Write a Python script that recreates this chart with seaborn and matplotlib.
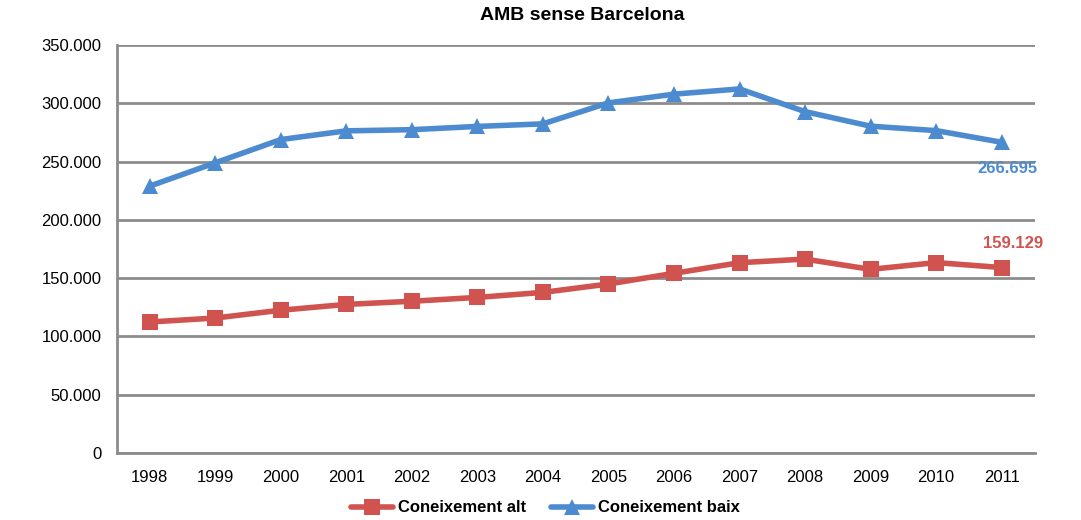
import pandas as pd
import numpy as np
import matplotlib
matplotlib.use("Agg")
import matplotlib.pyplot as plt
import seaborn as sns
from matplotlib.ticker import FuncFormatter, MultipleLocator

years = [1998, 1999, 2000, 2001, 2002, 2003, 2004, 2005, 2006, 2007, 2008, 2009, 2010, 2011]
alt = [112400, 115800, 122500, 127500, 130200, 133500, 137800, 145000, 154200, 163300, 166400, 157600, 163400, 159129]
baix = [229000, 249000, 269000, 276500, 277500, 280300, 282500, 300500, 308000, 312500, 293000, 280500, 276700, 266695]
series_names = ["Coneixement alt", "Coneixement baix"]
title = "AMB sense Barcelona"

red = "#D0534F"
blue = "#4D8BD0"

df = pd.concat([
    pd.DataFrame({"year": years, "value": alt, "serie": series_names[0]}),
    pd.DataFrame({"year": years, "value": baix, "serie": series_names[1]}),
])

sns.set_style("white")
plt.rcParams["font.family"] = ["Liberation Sans", "DejaVu Sans"]
plt.rcParams["text.color"] = "black"

fig = plt.figure(figsize=(10.81, 5.2), dpi=100)
ax = fig.add_axes([0.108, 0.129, 0.849, 0.784])

sns.lineplot(data=df, x="year", y="value", hue="serie", style="serie",
             palette=[red, blue], markers=["s", "^"], dashes=False,
             linewidth=4, markersize=11, markeredgewidth=0, ax=ax)

ax.set_xlim(years[0] - 0.5, years[-1] + 0.5)
ax.set_ylim(0, 350000)
ax.yaxis.set_major_locator(MultipleLocator(50000))
ax.yaxis.set_major_formatter(FuncFormatter(lambda v, p: "0" if v == 0 else f"{int(v):,}".replace(",", ".")))
ax.set_xticks(years)
ax.set_xticks(np.arange(years[0] - 0.5, years[-1] + 1, 1), minor=True)
ax.tick_params(axis="x", which="major", length=0, pad=12, labelsize=12, labelcolor="black")
ax.tick_params(axis="x", which="minor", length=5, width=1.5, color="#8c8c8c", direction="out")
ax.tick_params(axis="y", length=5, width=1.5, color="#8c8c8c", labelsize=12, pad=6, labelcolor="black")
ax.grid(axis="y", color="#8c8c8c", linewidth=2)
ax.set_axisbelow(True)
for s in ["top", "right"]:
    ax.spines[s].set_visible(False)
for s in ["left", "bottom"]:
    ax.spines[s].set_color("#8c8c8c")
    ax.spines[s].set_linewidth(2)
ax.set_xlabel("")
ax.set_ylabel("")

ax.annotate(f"{baix[-1]:,}".replace(",", "."), (years[-1], baix[-1]), xytext=(4, -19),
            textcoords="offset points", ha="center", va="center",
            color=blue, fontsize=12, fontweight="bold")
ax.annotate(f"{alt[-1]:,}".replace(",", "."), (years[-1], alt[-1]), xytext=(8, 17),
            textcoords="offset points", ha="center", va="center",
            color=red, fontsize=12, fontweight="bold")

fig.text(0.539, 0.97, title, ha="center", va="center", fontsize=14, fontweight="bold")

leg = ax.legend(loc="center", bbox_to_anchor=(0.467, -0.135), ncol=2, frameon=False,
                fontsize=12, handlelength=2.5, columnspacing=1.5, handletextpad=0.3)
for t in leg.get_texts():
    t.set_fontweight("bold")

fig.savefig("out.png", dpi=100)
